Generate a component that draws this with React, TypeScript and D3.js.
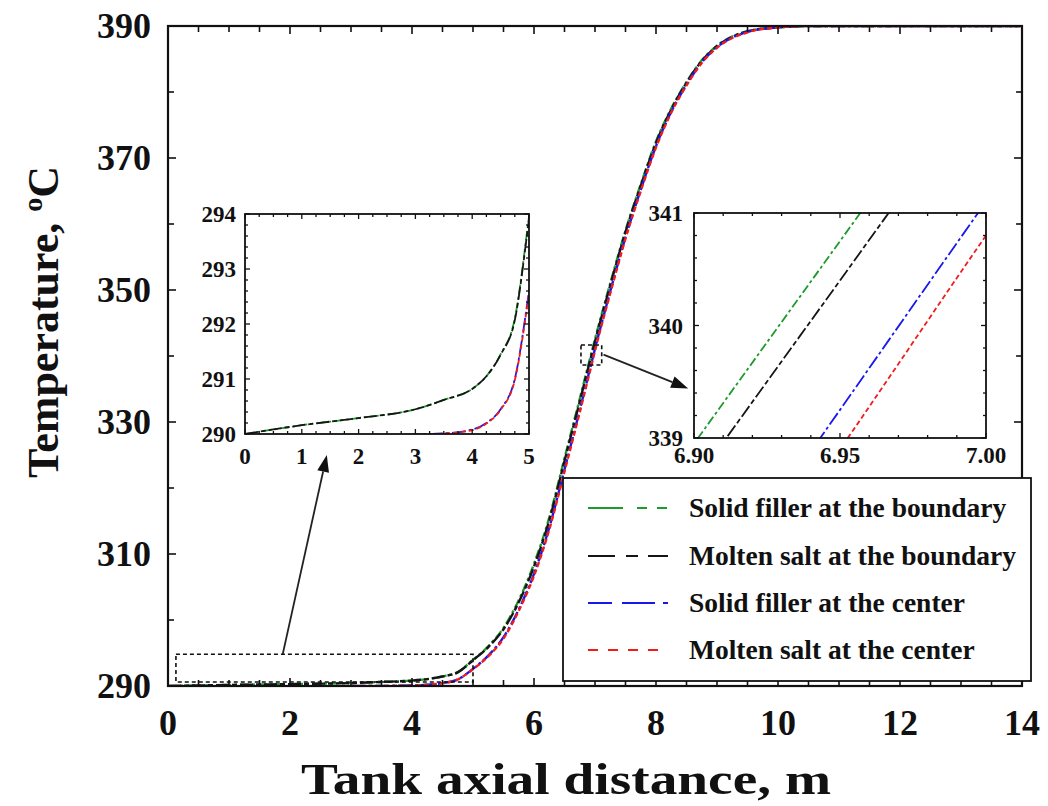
import React from "react";
import * as d3 from "d3";

// Axial positions (m) at which the temperature profiles are tabulated
const axialX = [0, 1, 2, 3, 3.5, 4, 4.25, 4.5, 4.75, 5, 5.25, 5.5, 5.75, 6, 6.25, 6.5, 6.75, 6.9, 6.95, 7, 7.25, 7.5, 7.75, 8, 8.25, 8.5, 8.75, 9, 9.5, 10, 10.5, 11, 12, 13, 14];

// Temperatures (°C)
const solidBoundary = [290.0, 290.16, 290.29, 290.45, 290.62, 290.82, 291.05, 291.45, 292.1, 293.95, 296.0, 298.8, 303.0, 308.5, 315.5, 324.5, 333.5, 338.95, 340.75, 342.55, 351.0, 359.0, 366.0, 372.5, 377.5, 381.5, 384.8, 387.0, 389.2, 389.8, 390, 390, 390, 390, 390];
const saltBoundary = [290.0, 290.16, 290.29, 290.45, 290.62, 290.82, 291.05, 291.44, 292.07, 293.9, 295.9, 298.6, 302.7, 308.1, 315.1, 324.1, 333.1, 338.6, 340.4, 342.2, 350.7, 358.8, 365.8, 372.3, 377.35, 381.4, 384.7, 386.95, 389.18, 389.8, 390, 390, 390, 390, 390];
const solidCenter = [289.95, 289.95, 289.96, 289.99, 290.01, 290.08, 290.2, 290.45, 291.0, 292.6, 294.6, 297.4, 301.6, 307.0, 314.0, 322.8, 331.8, 337.4, 339.25, 341.1, 349.8, 358.0, 365.2, 371.8, 377.0, 381.1, 384.5, 386.8, 389.1, 389.8, 390, 390, 390, 390, 390];
const saltCenter = [289.95, 289.95, 289.96, 289.99, 290.01, 290.07, 290.19, 290.44, 290.98, 292.55, 294.5, 297.2, 301.4, 306.7, 313.7, 322.5, 331.5, 337.05, 338.9, 340.8, 349.5, 357.8, 365.0, 371.6, 376.9, 381.0, 384.4, 386.7, 389.05, 389.78, 390, 390, 390, 390, 390];

const seriesNames = [
  "Solid filler at the boundary",
  "Molten salt at the boundary",
  "Solid filler at the center",
  "Molten salt at the center",
];
const seriesValues = [solidBoundary, saltBoundary, solidCenter, saltCenter];
const seriesColors = ["#1c9a2a", "#151515", "#1818ee", "#f01c1c"];
const seriesDash = ["9,3,3,3", "13,3,5,3", "14,3,3,3", "5,3"];
const legendDash = ["35,14,10,10,10,200", "27,11,12,10,22,200", "24,10,33,8,5,200", "10,10"];

// Axis ticks
const mainXTicks = [0, 2, 4, 6, 8, 10, 12, 14];
const mainYTicks = [290, 310, 330, 350, 370, 390];
const lowXTicks = [0, 1, 2, 3, 4, 5];
const lowYTicks = [290, 291, 292, 293, 294];
const midXTicks = [6.9, 6.95, 7.0];
const midYTicks = [339, 340, 341];

// Zoom markers (data coordinates)
const lowZoomBox = { x0: 0.13, x1: 5.0, y0: 290.6, y1: 294.8 };
const lowArrow = { fromX: 1.88, fromY: 294.8, toX: 1.44, toY: 289.62 };
const midZoomBox = { x0: 6.77, x1: 7.11, y0: 338.64, y1: 341.67 };
const midArrow = { fromX: 7.14, fromY: 340.2, toX: 6.898, toY: 339.44 };

const FONT = "'Liberation Serif', 'Times New Roman', serif";
const INK = "#111";

type Scale = d3.ScaleLinear<number, number>;

function range(a: number, b: number, step: number) {
  const out: number[] = [];
  const n = Math.round((b - a) / step);
  for (let i = 0; i <= n; i++) out.push(+(a + i * step).toFixed(6));
  return out;
}

function FrameTicks({ x, y, xMinor, xMajor, yMinor, yMajor, majorLen, minorLen, sw }: {
  x: Scale; y: Scale; xMinor: number[]; xMajor: number[]; yMinor: number[]; yMajor: number[];
  majorLen: number; minorLen: number; sw: number;
}) {
  const [x0, x1] = x.range();
  const [y0, y1] = y.range(); // y0 bottom, y1 top
  const isMajor = (arr: number[], v: number) => arr.some((m) => Math.abs(m - v) < 1e-6);
  const lines: JSX.Element[] = [];
  xMinor.forEach((v, i) => {
    const L = isMajor(xMajor, v) ? majorLen : minorLen;
    const px = x(v);
    lines.push(<line key={"xb" + i} x1={px} x2={px} y1={y0} y2={y0 - L} />);
    lines.push(<line key={"xt" + i} x1={px} x2={px} y1={y1} y2={y1 + L} />);
  });
  yMinor.forEach((v, i) => {
    const L = isMajor(yMajor, v) ? majorLen : minorLen;
    const py = y(v);
    lines.push(<line key={"yl" + i} x1={x0} x2={x0 + L} y1={py} y2={py} />);
    lines.push(<line key={"yr" + i} x1={x1} x2={x1 - L} y1={py} y2={py} />);
  });
  return <g stroke={INK} strokeWidth={sw}>{lines}</g>;
}

function Arrow({ x1, y1, x2, y2 }: { x1: number; y1: number; x2: number; y2: number }) {
  const ang = Math.atan2(y2 - y1, x2 - x1);
  const len = 17, half = 6;
  const bx = x2 - len * Math.cos(ang), by = y2 - len * Math.sin(ang);
  const nx = -Math.sin(ang), ny = Math.cos(ang);
  const pts = `${x2},${y2} ${bx + nx * half},${by + ny * half} ${bx - nx * half},${by - ny * half}`;
  return (
    <g>
      <line x1={x1} y1={y1} x2={bx} y2={by} stroke="#222" strokeWidth={1.8} />
      <polygon points={pts} fill="#111" />
    </g>
  );
}

function Curves({ x, y, clipId, width }: { x: Scale; y: Scale; clipId: string; width: number }) {
  return (
    <g clipPath={`url(#${clipId})`}>
      {seriesValues.map((vals, i) => {
        const line = d3
          .line<number>()
          .x((_, j) => x(axialX[j]))
          .y((d) => y(d))
          .curve(d3.curveMonotoneX);
        return (
          <path
            key={i}
            d={line(vals) || ""}
            fill="none"
            stroke={seriesColors[i]}
            strokeWidth={width}
            strokeDasharray={seriesDash[i]}
          />
        );
      })}
    </g>
  );
}

export default function App() {
  const W = 1048, H = 806;

  const xMain = d3.scaleLinear().domain([0, 14]).range([168, 1022]);
  const yMain = d3.scaleLinear().domain([290, 390]).range([686, 26]);
  const xLow = d3.scaleLinear().domain([0, 5]).range([245, 529]);
  const yLow = d3.scaleLinear().domain([290, 294]).range([434, 214]);
  const xMid = d3.scaleLinear().domain([6.9, 7.0]).range([694, 986]);
  const yMid = d3.scaleLinear().domain([339, 341]).range([438, 213]);

  const clipRect = (id: string, x: Scale, y: Scale) => {
    const [a, b] = x.range();
    const [c, d] = y.range();
    return (
      <clipPath id={id}>
        <rect x={a} y={d} width={b - a} height={c - d} />
      </clipPath>
    );
  };

  const frame = (x: Scale, y: Scale, sw: number) => {
    const [a, b] = x.range();
    const [c, d] = y.range();
    return <rect x={a} y={d} width={b - a} height={c - d} fill="none" stroke={INK} strokeWidth={sw} />;
  };

  const legend = { x: 563, y: 478, w: 468, h: 203 };
  const rowY = [508, 556, 603, 650];

  return (
    <svg
      width={W}
      height={H}
      viewBox={`0 0 ${W} ${H}`}
      style={{ position: "absolute", left: 0, top: 0, background: "#fff" }}
      fontFamily={FONT}
      fontWeight="bold"
    >
      <defs>
        {clipRect("clipMain", xMain, yMain)}
        {clipRect("clipLow", xLow, yLow)}
        {clipRect("clipMid", xMid, yMid)}
      </defs>
      <rect x={0} y={0} width={W} height={H} fill="#fff" />

      {/* Main panel */}
      <Curves x={xMain} y={yMain} clipId="clipMain" width={2.4} />
      <FrameTicks
        x={xMain}
        y={yMain}
        xMinor={range(0, 14, 0.5)}
        xMajor={mainXTicks}
        yMinor={range(290, 390, 10)}
        yMajor={mainYTicks}
        majorLen={8}
        minorLen={6}
        sw={1.6}
      />
      {frame(xMain, yMain, 2.2)}
      {mainXTicks.map((t) => (
        <text key={"mx" + t} x={xMain(t)} y={735} textAnchor="middle" fontSize={36} fill={INK}>
          {t}
        </text>
      ))}
      {mainYTicks.map((t) => (
        <text key={"my" + t} x={151} y={yMain(t) + 12} textAnchor="end" fontSize={36} fill={INK}>
          {t}
        </text>
      ))}
      <text x={566} y={794} textAnchor="middle" fontSize={45} fill={INK} textLength={530} lengthAdjust="spacingAndGlyphs">
        Tank axial distance, m
      </text>
      <text
        transform={`translate(58, 322) rotate(-90)`}
        textAnchor="middle"
        fontSize={44}
        fill={INK}
      >
        Temperature,{" "}
        <tspan fontSize={28} dy={-16}>o</tspan>
        <tspan dy={16}>C</tspan>
      </text>

      {/* Zoom markers */}
      <rect
        x={xMain(lowZoomBox.x0)}
        y={yMain(lowZoomBox.y1)}
        width={xMain(lowZoomBox.x1) - xMain(lowZoomBox.x0)}
        height={yMain(lowZoomBox.y0) - yMain(lowZoomBox.y1)}
        fill="none"
        stroke="#111"
        strokeWidth={1.6}
        strokeDasharray="4,3"
      />
      <Arrow x1={xMain(lowArrow.fromX)} y1={yMain(lowArrow.fromY)} x2={xLow(lowArrow.toX)} y2={yLow(lowArrow.toY)} />
      <rect
        x={xMain(midZoomBox.x0)}
        y={yMain(midZoomBox.y1)}
        width={xMain(midZoomBox.x1) - xMain(midZoomBox.x0)}
        height={yMain(midZoomBox.y0) - yMain(midZoomBox.y1)}
        fill="none"
        stroke="#111"
        strokeWidth={1.6}
        strokeDasharray="4,3"
      />
      <Arrow x1={xMain(midArrow.fromX)} y1={yMain(midArrow.fromY)} x2={xMid(midArrow.toX)} y2={yMid(midArrow.toY)} />

      {/* Inset: low-temperature region */}
      <rect x={245} y={214} width={284} height={220} fill="#fff" />
      <Curves x={xLow} y={yLow} clipId="clipLow" width={1.8} />
      <FrameTicks
        x={xLow}
        y={yLow}
        xMinor={range(0, 5, 0.25)}
        xMajor={lowXTicks}
        yMinor={range(290, 294, 0.2)}
        yMajor={lowYTicks}
        majorLen={5}
        minorLen={3}
        sw={1.3}
      />
      {frame(xLow, yLow, 1.8)}
      {lowXTicks.map((t) => (
        <text key={"lx" + t} x={xLow(t)} y={464} textAnchor="middle" fontSize={23} fill={INK}>
          {t}
        </text>
      ))}
      {lowYTicks.map((t) => (
        <text key={"ly" + t} x={236} y={yLow(t) + 8} textAnchor="end" fontSize={23} fill={INK}>
          {t}
        </text>
      ))}

      {/* Inset: mid-front region */}
      <rect x={694} y={213} width={292} height={225} fill="#fff" />
      <Curves x={xMid} y={yMid} clipId="clipMid" width={1.8} />
      <FrameTicks
        x={xMid}
        y={yMid}
        xMinor={range(6.9, 7.0, 0.01)}
        xMajor={midXTicks}
        yMinor={range(339, 341, 0.2)}
        yMajor={midYTicks}
        majorLen={5}
        minorLen={3}
        sw={1.3}
      />
      {frame(xMid, yMid, 1.8)}
      {midXTicks.map((t) => (
        <text key={"dx" + t} x={xMid(t)} y={463} textAnchor="middle" fontSize={23} fill={INK}>
          {t.toFixed(2)}
        </text>
      ))}
      {midYTicks.map((t) => (
        <text key={"dy" + t} x={683} y={yMid(t) + 8} textAnchor="end" fontSize={23} fill={INK}>
          {t}
        </text>
      ))}

      {/* Legend */}
      <rect x={legend.x} y={legend.y} width={legend.w} height={legend.h} fill="#fff" stroke={INK} strokeWidth={1.8} />
      {seriesNames.map((name, i) => (
        <g key={name}>
          <line
            x1={588}
            x2={668}
            y1={rowY[i]}
            y2={rowY[i]}
            stroke={seriesColors[i]}
            strokeWidth={2}
            strokeDasharray={legendDash[i]}
          />
          <text x={689} y={rowY[i] + 9} fontSize={27.5} fill={INK}>
            {name}
          </text>
        </g>
      ))}
    </svg>
  );
}
